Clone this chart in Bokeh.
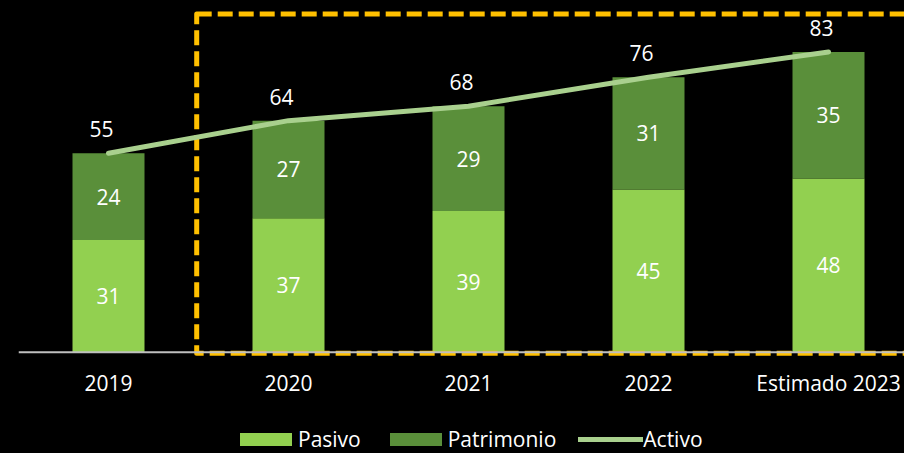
from bokeh.plotting import figure
from bokeh.models import (Range1d, Span, Legend, LegendItem, ColumnDataSource,
                          GlobalInlineStyleSheet)
from bokeh.core.properties import value
from bokeh.embed import file_html
from bokeh.resources import INLINE

# ---- data ----
years = ["2019", "2020", "2021", "2022", "Estimado 2023"]
pasivo = [31, 37, 39, 45, 48]
patrimonio = [24, 27, 29, 31, 35]
activo = [55, 64, 68, 76, 83]

# highlighted period (2020 .. Estimado 2023), in data units
highlight_left = 0.49
highlight_right = 4.7
highlight_bottom = -0.3
highlight_top = 93.5

FONT = "Open Sans"
C_PASIVO = "#92D050"
C_PATRIMONIO = "#5A8F3A"
C_ACTIVO = "#A9D08E"
C_HIGHLIGHT = "#FFC000"

W, H = 904, 453
LEFT = 18
PX_PER_CAT = 180
PX_PER_UNIT = 3.618
ZERO_Y = 351.7          # pixel row of the value 0

x = list(range(len(years)))
src = ColumnDataSource(dict(
    x=x,
    zero=[0] * len(x),
    years=years,
    activo=activo,
    top_pas=pasivo,
    top_pat=[a + b for a, b in zip(pasivo, patrimonio)],
    mid_pas=[a / 2 for a in pasivo],
    mid_pat=[a + b / 2 for a, b in zip(pasivo, patrimonio)],
    lab_pas=[str(v) for v in pasivo],
    lab_pat=[str(v) for v in patrimonio],
    lab_act=[str(v) for v in activo],
))

p = figure(width=W, height=H,
           x_range=Range1d(-0.5, -0.5 + (W - LEFT) / PX_PER_CAT),
           y_range=Range1d(-(H - ZERO_Y) / PX_PER_UNIT, ZERO_Y / PX_PER_UNIT),
           output_backend="svg", toolbar_location=None,
           x_axis_location=None, y_axis_location=None,
           min_border_left=LEFT, min_border_right=0,
           min_border_top=0, min_border_bottom=0,
           background_fill_color="black", border_fill_color="black",
           outline_line_color=None)
p.stylesheets = [GlobalInlineStyleSheet(
    css="html,body{margin:0;padding:0;background:#000;overflow:hidden}")]
p.xgrid.visible = False
p.ygrid.visible = False

r_pas = p.vbar(x="x", width=0.4, bottom=0, top="top_pas", source=src,
               fill_color=C_PASIVO, line_color=None)
r_pat = p.vbar(x="x", width=0.4, bottom="top_pas", top="top_pat", source=src,
               fill_color=C_PATRIMONIO, line_color=None)

p.text(x="x", y="mid_pas", text="lab_pas", source=src, text_color="white",
       text_font=value(FONT), text_font_size="21px",
       text_align="center", text_baseline="middle")
p.text(x="x", y="mid_pat", text="lab_pat", source=src, text_color="white",
       text_font=value(FONT), text_font_size="21px",
       text_align="center", text_baseline="middle")

# highlight rectangle
p.quad(left=[highlight_left], right=[highlight_right],
       bottom=[highlight_bottom], top=[highlight_top],
       fill_color=None, line_color=C_HIGHLIGHT, line_width=5,
       line_dash="15 6", line_join="round")

r_act = p.line(x="x", y="activo", source=src, line_color=C_ACTIVO,
               line_width=5, line_cap="round")
p.text(x="x", y="activo", text="lab_act", source=src, text_color="white",
       text_font=value(FONT), text_font_size="21px",
       text_align="center", text_baseline="middle",
       x_offset=-7, y_offset=-24)

# category axis labels (under the baseline)
p.text(x="x", y="zero", text="years", source=src, text_color="white",
       text_font=value(FONT), text_font_size="21px",
       text_align="center", text_baseline="middle", y_offset=31)

p.add_layout(Span(location=0, dimension="width", line_color="#BFBFBF",
                  line_width=2))

legend = Legend(items=[
    LegendItem(label="Pasivo", renderers=[r_pas]),
    LegendItem(label="Patrimonio", renderers=[r_pat]),
    LegendItem(label="Activo", renderers=[r_act]),
], orientation="horizontal", location=(215, 0), padding=0, margin=0,
    spacing=22, label_standoff=0, glyph_width=65, glyph_height=16,
    background_fill_alpha=0, border_line_color=None,
    label_text_color="white", label_text_font=FONT,
    label_text_font_size="21px")
p.add_layout(legend)

open("out.html", "w").write(file_html(p, INLINE))
